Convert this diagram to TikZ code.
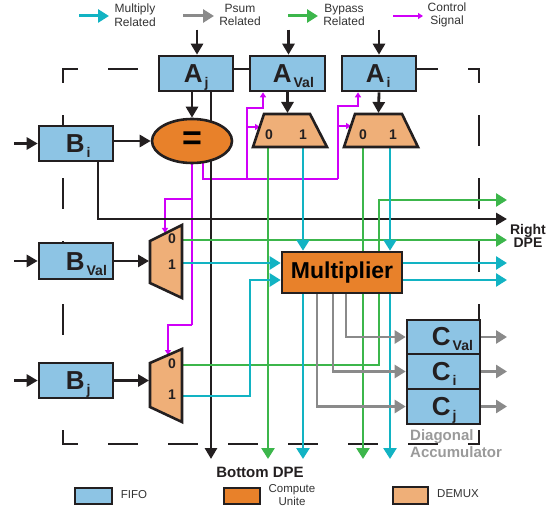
\documentclass[tikz,border=0pt]{standalone}
\usepackage{fontspec}
\setmainfont{Liberation Sans}
\usetikzlibrary{arrows.meta,calc,shapes.geometric}
\definecolor{dark}{HTML}{231F20}
\definecolor{fifoc}{HTML}{8DC4E4}
\definecolor{compc}{HTML}{E8812A}
\definecolor{demuxc}{HTML}{EFAF78}
\definecolor{cyanc}{HTML}{12B3C3}
\definecolor{grayc}{HTML}{8A8A8A}
\definecolor{greenc}{HTML}{3CB64B}
\definecolor{magc}{HTML}{D000F8}
\definecolor{txtc}{HTML}{333333}
\definecolor{accc}{HTML}{9A9A9A}
\pgfdeclarelayer{bg}
\pgfsetlayers{bg,main}
\newcommand{\boxlbl}[2]{{\fontsize{26}{26}\selectfont\bfseries #1}\hspace{2pt}\raisebox{-5pt}{\fontsize{14}{14}\selectfont\bfseries #2}}
\begin{document}
\begin{tikzpicture}[x=1pt,y=-1pt,
  fifo/.style={draw=dark,line width=2.6pt,fill=fifoc,minimum width=74pt,minimum height=35pt,inner sep=0pt},
  comp/.style={draw=dark,line width=2.6pt,fill=compc,inner sep=0pt},
  dmx/.style={draw=dark,line width=2.6pt,fill=demuxc,line join=miter},
  lbl/.style={anchor=base west,inner sep=0pt,text=dark},
  digit/.style={inner sep=0pt,text=dark,font=\fontsize{14}{14}\selectfont\bfseries},
  blk/.style={draw=dark,line width=2.8pt,-{Triangle[length=11pt,width=12pt]}},
  cyn/.style={draw=cyanc,line width=2.6pt,-{Triangle[length=11pt,width=13pt]}},
  grn/.style={draw=greenc,line width=2.6pt,-{Triangle[length=11pt,width=13pt]}},
  gry/.style={draw=grayc,line width=2.6pt,-{Triangle[length=11pt,width=13pt]}},
  mag/.style={draw=magc,line width=1.3pt,-{Triangle[length=5pt,width=6pt]}},
  bordh/.style={draw=dark,line width=2.8pt,line cap=rect,dash pattern=on 27pt off 33pt,dash phase=13.5pt},
  bordv/.style={draw=dark,line width=2.8pt,line cap=rect,dash pattern=on 28pt off 35pt,dash phase=15.5pt},
  lgt/.style={align=center,inner sep=0pt,text=txtc,font=\fontsize{12}{13.5}\selectfont},
  lgb/.style={align=center,inner sep=0pt,text=txtc,font=\fontsize{11.5}{13}\selectfont}]
\useasboundingbox (0,0) rectangle (556,510);

% ---------- top legend ----------
\coordinate (l1a) at (79,16);  \coordinate (l1b) at (109,16);
\coordinate (l2a) at (183,16); \coordinate (l2b) at (214,16);
\coordinate (l3a) at (288,16); \coordinate (l3b) at (318,16);
\coordinate (l4a) at (393,16); \coordinate (l4b) at (423,16);
\draw[cyn,line width=3pt] (l1a) -- (l1b);
\draw[gry,line width=3pt] (l2a) -- (l2b);
\draw[grn,line width=3pt] (l3a) -- (l3b);
\draw[mag] (l4a) -- (l4b);
\node[lgt] (l1t) at (135,15) {Multiply\\Related};
\node[lgt] (l2t) at (240,15) {Psum\\Related};
\node[lgt] (l3t) at (344,15) {Bypass\\Related};
\node[lgt] (l4t) at (447,15) {Control\\Signal};

% ---------- named end points ----------
\coordinate (inBi) at (14,143.5);
\coordinate (inBv) at (14,261);
\coordinate (inBj) at (14,380.5);
\coordinate (rG0) at (507,200);
\coordinate (rK)  at (507,219);
\coordinate (rG1) at (507,240);
\coordinate (rC0) at (507,263);
\coordinate (rC1) at (507,280);
\coordinate (bK)  at (211,459);
\coordinate (bG0) at (268,459);
\coordinate (bC0) at (303,459);
\coordinate (bG1) at (363,459);
\coordinate (bC1) at (390,459);
\coordinate (mAv0) at (268,147);
\coordinate (mAv1) at (303,147);
\coordinate (mAi0) at (363,147);
\coordinate (mAi1) at (390,147);
\coordinate (mBv0) at (182,240);
\coordinate (mBv1) at (182,263);
\coordinate (mBj0) at (182,365);
\coordinate (mBj1) at (182,396);

% ---------- nodes ----------
\node[fifo] (Aj) at (196,73.5) {};
\node[fifo,minimum width=75pt] (Aval) at (287.5,73.5) {};
\node[fifo] (Ai) at (379,73.5) {};
\node[fifo] (Bi) at (76,143.5) {};
\node[fifo,minimum height=36pt] (Bval) at (76,261) {};
\node[fifo] (Bj) at (76,380.5) {};
\node[fifo,minimum width=73pt,minimum height=34pt] (Cval) at (443.5,337) {};
\node[fifo,minimum width=73pt] (Ci) at (443.5,371.5) {};
\node[fifo,minimum width=73pt] (Cj) at (443.5,406.5) {};
\node[comp,ellipse,minimum width=80pt,minimum height=44pt] (eq) at (192,141) {\fontsize{34}{34}\selectfont\bfseries =};
\node[comp,minimum width=120pt,minimum height=41pt] (mult) at (342,272.5) {\fontsize{23}{23}\selectfont\bfseries Multiplier};

\node[lbl] (AjL) at ($(Aj.south west)+(26,-10)$) {\boxlbl{A}{j}};
\node[lbl] (AvalL) at ($(Aval.south west)+(24,-10)$) {\boxlbl{A}{Val}};
\node[lbl] (AiL) at ($(Ai.south west)+(25,-10)$) {\boxlbl{A}{i}};
\node[lbl] (BiL) at ($(Bi.south west)+(28,-10)$) {\boxlbl{B}{i}};
\node[lbl] (BvalL) at ($(Bval.south west)+(28,-10)$) {\boxlbl{B}{Val}};
\node[lbl] (BjL) at ($(Bj.south west)+(28,-10)$) {\boxlbl{B}{j}};
\node[lbl] (CvalL) at ($(Cval.south west)+(26,-10)$) {\boxlbl{C}{Val}};
\node[lbl] (CiL) at ($(Ci.south west)+(26,-10)$) {\boxlbl{C}{i}};
\node[lbl] (CjL) at ($(Cj.south west)+(26,-10)$) {\boxlbl{C}{j}};

% demuxes
\draw[dmx] (253,147) -- (264,114) -- (310,114) -- (327,147) -- cycle;
\draw[dmx] (344,147) -- (355,114) -- (402,114) -- (418,147) -- cycle;
\draw[dmx] (150,241) -- (182,225) -- (182,298) -- (150,283) -- cycle;
\draw[dmx] (150,363) -- (182,349) -- (182,422) -- (150,407) -- cycle;
\node[digit] (dAv0) at (269,135) {0};
\node[digit] (dAv1) at (303,135) {1};
\node[digit] (dAi0) at (363,135) {0};
\node[digit] (dAi1) at (393,135) {1};
\node[digit] (dBv0) at (172,239) {0};
\node[digit] (dBv1) at (172,265) {1};
\node[digit] (dBj0) at (172,364) {0};
\node[digit] (dBj1) at (172,395) {1};

\begin{pgfonlayer}{bg}
% ---------- dashed border of the DPE ----------
\draw[bordh] (63,69) -- (479,69);
\draw[bordh] (63,444) -- (479,444);
\draw[bordv] (63,69) -- (63,444);
\draw[bordv] (479,69) -- (479,444);

% ---------- control signals ----------
\draw[mag,-] (eq.south) -- (192,325);
\draw[mag] (192,199) -- (165,199) -- (165,233);
\draw[mag] (192,325) -- (168,325) -- (168,355);
\draw[mag,-] (203,160) -- (203,179) -- (338,179);
\draw[mag] (247,179) -- (247,108) -- (263,108) -- (Aval.south -| 263,0);
\draw[mag] (247,127) -- (260,127);
\draw[mag] (338,179) -- (338,106) -- (358,106) -- (Ai.south -| 358,0);
\draw[mag] (338,126) -- (351,126);

% ---------- black data paths ----------
\draw[blk] ($(Aj.north)+(1,-25)$) -- ($(Aj.north)+(1,0)$);
\draw[blk] ($(Aval.north)+(1,-25)$) -- ($(Aval.north)+(1,0)$);
\draw[blk] ($(Ai.north)+(0,-25)$) -- (Ai.north);
\draw[blk] (Aj.south -| eq.north) -- (eq.north);
\draw[blk] (Aval.south) -- (287.5,113);
\draw[blk] (Ai.south) -- (378.5,113);
\draw[blk] (inBi) -- (Bi.west);
\draw[blk] (inBv) -- (Bval.west);
\draw[blk] (inBj) -- (Bj.west);
\draw[blk] (Bi.east |- eq.west) -- (eq.west);
\draw[blk] (Bval.east) -- (149,261);
\draw[blk] (Bj.east) -- (149,380.5);
\draw[blk] (Aj.south -| bK) -- (bK);
\draw[blk] (Bi.south -| 98,0) |- (rK);

% ---------- bypass (green) ----------
\draw[grn] (mAv0) -- (bG0);
\draw[grn] (mAi0) -- (bG1);
\draw[grn] (mBv0) -- (rG1);
\draw[grn] (mBj0) -| (rG0 -| 379,0) -- (rG0);

% ---------- multiply (cyan) ----------
\draw[cyn] (mAv1) -- (mAv1 |- mult.north);
\draw[cyn] (mAi1) -- (mAi1 |- mult.north);
\draw[cyn] (mAv1 |- mult.south) -- (bC0);
\draw[cyn] (mAi1 |- mult.south) -- (bC1);
\draw[cyn] (mBv1) -- (mBv1 -| mult.west);
\draw[cyn] (mBj1) -| (rC1 -| 250,0) -- (rC1 -| mult.west);
\draw[cyn] (rC0 -| mult.east) -- (rC0);
\draw[cyn] (rC1 -| mult.east) -- (rC1);

% ---------- psum (gray) ----------
\draw[gry] (mult.south -| 346,0) |- (Cval.west);
\draw[gry] (mult.south -| 333,0) |- (Ci.west);
\draw[gry] (mult.south -| 317,0) |- (Cj.west);
\draw[gry] (Cval.east) -- (Cval.east -| rK);
\draw[gry] (Ci.east) -- (Ci.east -| rK);
\draw[gry] (Cj.east) -- (Cj.east -| rK);
\end{pgfonlayer}

% ---------- texts ----------
\node[align=center,inner sep=0pt,text=dark,font=\fontsize{14}{12}\selectfont\bfseries] (rdpe) at (528,236) {Right\\DPE};
\node[inner sep=0pt,text=dark,font=\fontsize{15}{15}\selectfont\bfseries] (bdpe) at (260,472) {Bottom DPE};
\node[anchor=base west,inner sep=0pt,text=accc,font=\fontsize{15}{15}\selectfont\bfseries] (acc1) at (410,440.5) {Diagonal};
\node[anchor=base west,inner sep=0pt,text=accc,font=\fontsize{15}{15}\selectfont\bfseries] (acc2) at (410,457.5) {Accumulator};

% ---------- bottom legend ----------
\node[fifo,minimum width=37pt,minimum height=16pt] (lgF) at (93.5,496) {};
\node[comp,minimum width=36pt,minimum height=16pt] (lgC) at (242,496) {};
\node[dmx,minimum width=35pt,minimum height=17pt,inner sep=0pt] (lgD) at (410.5,495.5) {};
\node[lgb] (lgFt) at (134,495) {FIFO};
\node[lgb] (lgCt) at (292,495.5) {Compute\\Unite};
\node[lgb] (lgDt) at (458,494) {DEMUX};
\end{tikzpicture}
\end{document}
